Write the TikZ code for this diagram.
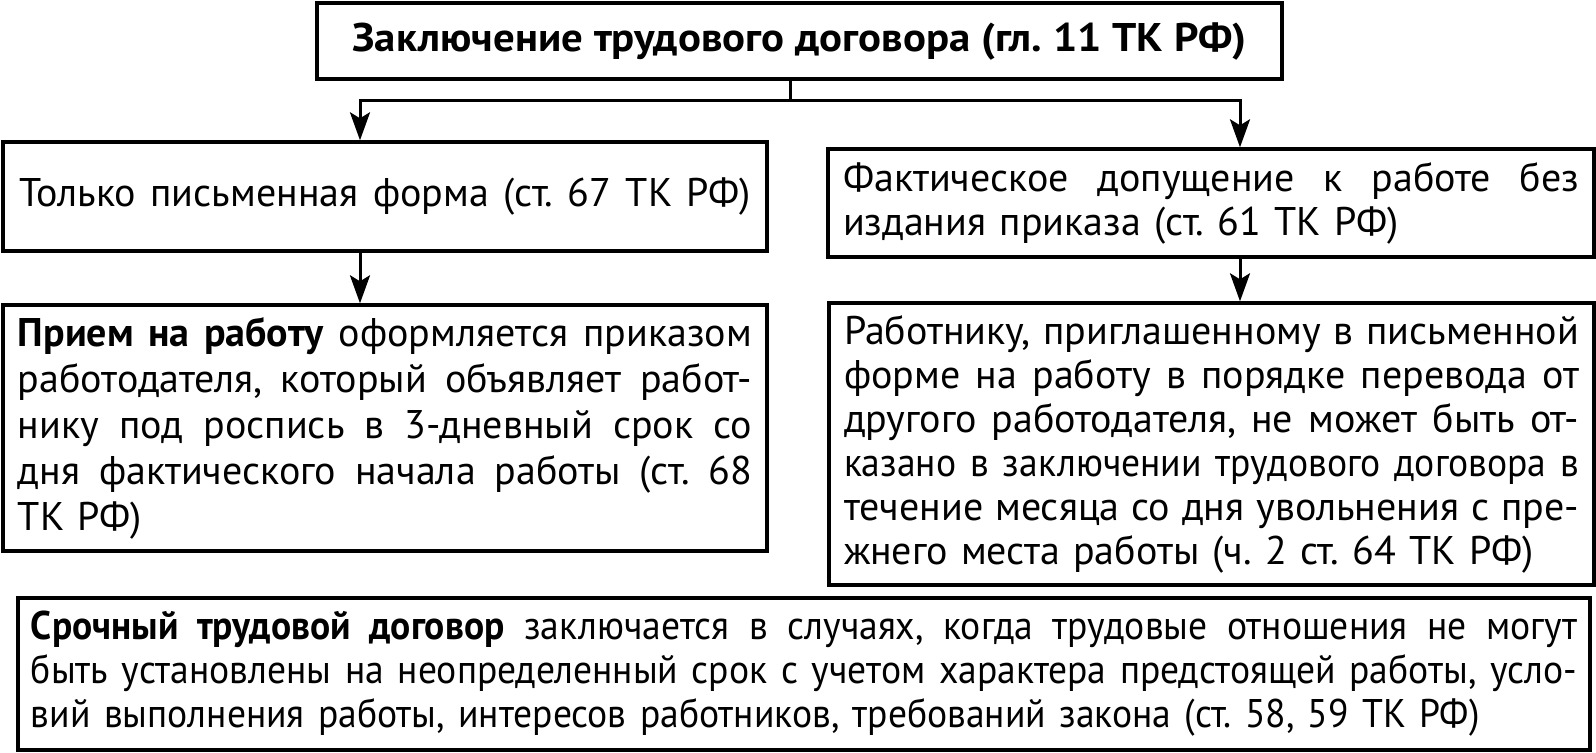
\documentclass[tikz,border=0pt]{standalone}
\usepackage{fontspec}
\setmainfont{PT Sans}
\newfontfamily\headfont{PT Sans}[FakeStretch=1.07]
\newfontfamily\narrowfont{PT Sans}[FakeStretch=0.94]
\usetikzlibrary{arrows.meta}
\frenchspacing

\newcommand{\jline}[1]{\makebox[\hsize][s]{\spaceskip=0pt\relax#1}\\}

\begin{document}
\begin{tikzpicture}[x=0.5pt,y=-0.5pt,
    box/.style={draw,line width=1.7pt,inner ysep=0pt,inner xsep=7.5pt,align=left,
      font=\fontsize{20}{22}\selectfont,execute at begin node={\parindent=0pt}},
    link/.style={line width=1.5pt,-{Stealth[length=14pt,width=10pt,inset=3pt]}}]
  \useasboundingbox (0,0) rectangle (1596,752);
  % top
  \node[box,minimum width=482.5pt,minimum height=38pt,font=\fontsize{20}{22}\headfont\bfseries,align=center]
    (head) at (799.5,41) {Заключение трудового договора (гл. 11 ТК РФ)};
  % left column
  \node[box,minimum width=382pt,minimum height=54.5pt,align=center]
    (form) at (385,196.5) {\makebox[366pt][s]{\spaceskip=0pt\relax Только письменная форма (ст. 67 ТК РФ)}};
  \node[box,text width=367pt,minimum height=123pt,font=\fontsize{20}{23}\selectfont]
    (order) at (385,428) {%
      \jline{\textbf{Прием на работу} оформляется приказом}
      \jline{работодателя, который объявляет работ-}
      \jline{нику под роспись в 3-дневный срок со}
      \jline{дня фактического начала работы (ст. 68}
      ТК РФ)};
  % right column
  \node[box,text width=368pt,minimum height=54pt]
    (admit) at (1211,203) {%
      \jline{Фактическое допущение к работе без}
      издания приказа (ст. 61 ТК РФ)};
  \node[box,text width=367.5pt,minimum height=141pt]
    (transfer) at (1211.5,444) {%
      \jline{Работнику, приглашенному в письменной}
      \jline{форме на работу в порядке перевода от}
      \jline{другого работодателя, не может быть от-}
      \jline{{\narrowfont казано в заключении трудового договора в}}
      \jline{течение месяца со дня увольнения с пре-}
      жнего места работы (ч. 2 ст. 64 ТК РФ)};
  % bottom
  \node[box,text width=773pt,inner xsep=6.5pt,minimum height=76pt,font=\fontsize{20}{22}\narrowfont]
    (fixed) at (804,674) {%
      \jline{\textbf{Срочный трудовой договор} заключается в случаях, когда трудовые отношения не могут}
      \jline{быть установлены на неопределенный срок с учетом характера предстоящей работы, усло-}
      вий выполнения работы, интересов работников, требований закона (ст. 58, 59 ТК РФ)};
  % arrows
  \coordinate (fork) at (790,100);
  \coordinate (lfork) at (360,100);
  \coordinate (rfork) at (1240,100);
  \draw[line width=1.5pt] (head.south -| fork) -- (fork);
  \draw[link] (fork) -- (lfork) -- (lfork |- form.north);
  \draw[link] (fork) -- (rfork) -- (rfork |- admit.north);
  \draw[link] (form.south -| lfork) -- (order.north -| lfork);
  \draw[link] (admit.south -| rfork) -- (transfer.north -| rfork);
\end{tikzpicture}
\end{document}
